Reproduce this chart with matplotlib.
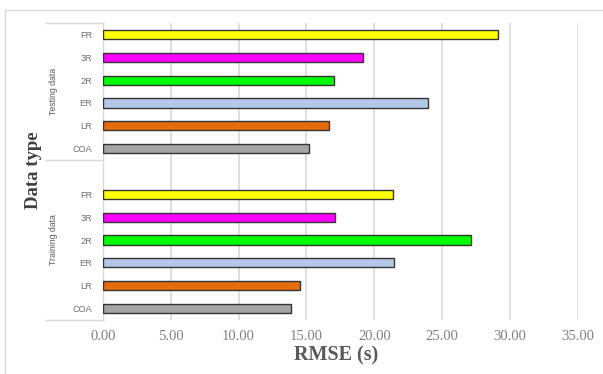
import matplotlib
matplotlib.use("Agg")
import matplotlib.pyplot as plt
from matplotlib.lines import Line2D
import matplotlib.transforms as mtransforms

# Data
methods = ["COA", "LR", "ER", "2R", "3R", "FR"]
training_rmse = [13.87, 14.55, 21.47, 27.16, 17.09, 21.35]
testing_rmse = [15.22, 16.68, 23.93, 17.05, 19.19, 29.10]
groups = ["Training data", "Testing data"]
bar_colors = ["#A5A5A5", "#E46C0A", "#B4C7E7", "#00FF00", "#FF00FF", "#FFFF00"]
xticks = [0, 5, 10, 15, 20, 25, 30, 35]

W, H = 603, 374
fig = plt.figure(figsize=(W / 100, H / 100), dpi=100)

def fx(px):
    return px / W

def fy(py):
    return 1 - py / H

left, right, top, bottom = 103, 577.7, 23, 320
ax = fig.add_axes([fx(left), fy(bottom), fx(right) - fx(left), fy(top) - fy(bottom)])

n = len(methods)
train_pos = list(range(n))
test_pos = [n + 1 + i for i in range(n)]

ax.barh(train_pos, training_rmse, height=0.4, color=bar_colors,
        edgecolor="#333333", linewidth=1.0, zorder=3)
ax.barh(test_pos, testing_rmse, height=0.4, color=bar_colors,
        edgecolor="#333333", linewidth=1.0, zorder=3)

ax.set_xlim(0, 35)
ax.set_ylim(-0.5, 2 * n + 0.5)
ax.set_xticks(xticks)
ax.set_xticklabels([f"{v:.2f}" for v in xticks], family="Liberation Serif",
                   fontsize=10.5, color="#808080")
ax.set_yticks(train_pos + test_pos)
ax.set_yticklabels(methods + methods, family="Liberation Sans", fontsize=6.6,
                   color="#6f6f6f")
ax.tick_params(axis="y", length=0, pad=8)
ax.tick_params(axis="x", length=0, pad=7)
ax.grid(axis="x", color="#d9d9d9", linewidth=1.2, zorder=0)
for s in ["top", "right", "bottom"]:
    ax.spines[s].set_visible(False)
ax.spines["left"].set_color("#d9d9d9")
ax.spines["left"].set_linewidth(1.0)

# category axis separators
trans = mtransforms.blended_transform_factory(fig.transFigure, ax.transData)
for yv in [-0.5, n + 0.5, 2 * n + 0.5]:
    fig.add_artist(Line2D([fx(46), fx(103)], [yv, yv], transform=trans,
                          color="#d9d9d9", linewidth=1.0))

# group labels
fig.text(fx(53), fy(240), groups[0], rotation=90, ha="center", va="center",
         family="Liberation Sans", fontsize=6.3, color="#595959")
fig.text(fx(53), fy(91.5), groups[1], rotation=90, ha="center", va="center",
         family="Liberation Sans", fontsize=6.3, color="#595959")

# axis titles
fig.text(fx(336), fy(355), "RMSE (s)", ha="center", va="center",
         family="Liberation Serif", fontweight="bold", fontsize=14.5,
         color="#595959")
fig.text(fx(33), fy(170), "Data type", rotation=90, ha="center", va="center",
         family="Liberation Serif", fontweight="bold", fontsize=13.5,
         color="#404040")

# outer border
fig.add_artist(Line2D([fx(5), fx(5)], [fy(374), fy(10)], transform=fig.transFigure,
                      color="#d9d9d9", linewidth=1.0))
fig.add_artist(Line2D([fx(5), fx(602)], [fy(10), fy(10)], transform=fig.transFigure,
                      color="#d9d9d9", linewidth=1.0))

fig.savefig("out.png", dpi=100)
